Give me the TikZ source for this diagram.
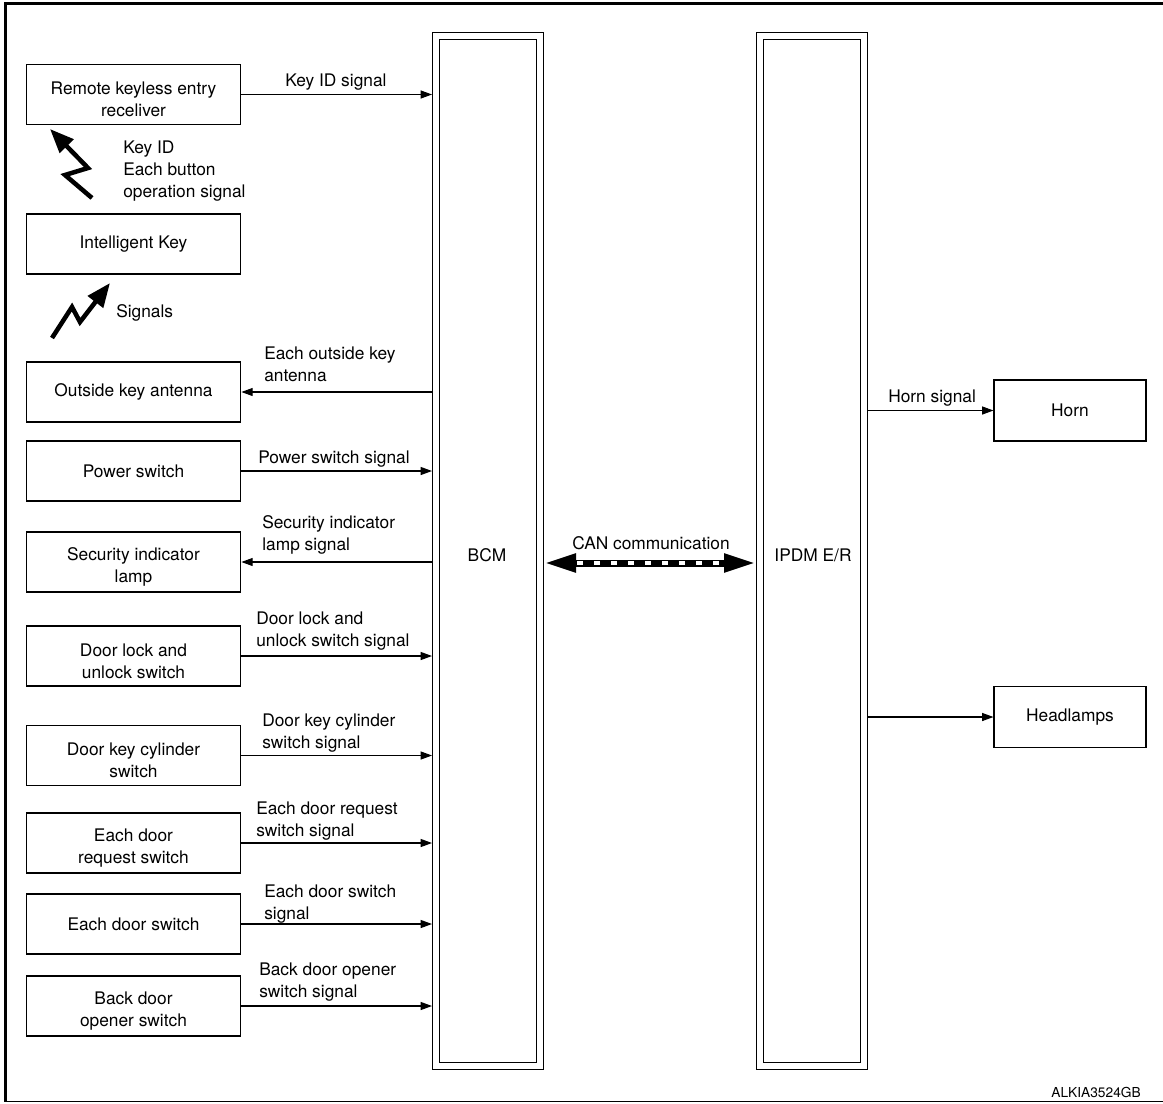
\documentclass[tikz,border=0pt]{standalone}
\usepackage{fontspec}
\setmainfont{TeX Gyre Heros}
\usetikzlibrary{arrows.meta}
\newcommand\mfs{\fontsize{13pt}{16.5pt}\selectfont}
\newcommand\sfs{\fontsize{10.3pt}{12pt}\selectfont}
\newcommand\dnr{\rule{0pt}{17pt}}
\begin{document}
\begin{tikzpicture}[x=0.75pt,y=-0.75pt,
 lbox/.style={draw,line width=0.8pt,minimum width=161pt,minimum height=45pt,align=center,inner sep=0pt,font=\mfs},
 rbox/.style={lbox,minimum width=114pt,minimum height=45.75pt},
 unit/.style={draw,double,line width=0.9pt,double distance=4.2pt,inner sep=0pt,outer sep=3pt,minimum width=78pt,minimum height=772.5pt},
 sig/.style={line width=0.8pt,-{Triangle[length=8.5pt,width=6pt]}},
 lbl/.style={anchor=north west,inner sep=0pt,align=left,font=\mfs},
 bolt/.style={line width=3.4pt,line join=miter,-{Triangle[length=18pt,width=14pt]}},
 canline/.style={line width=5.25pt,{Triangle[length=24pt,width=13pt]}-{Triangle[length=24pt,width=13pt]}},
 candash/.style={white,line width=3pt,dash pattern=on 4.5pt off 8.25pt,shorten <=25pt,shorten >=25pt}]
\useasboundingbox (0,0) rectangle (1163,1103);
% frame
\draw[line width=2.25pt] (1163,3.5) -- (5.8,3.5) -- (5.8,1102);
\draw[line width=0.9pt] (4.5,1101.8) -- (1163,1101.8);
% units
\node[unit] (bcm) at (488,551) {};
\node[unit] (ipdm) at (812,551) {};
\node[font=\mfs] (bcmt) at (487,555) {BCM};
\node[font=\mfs,anchor=north,inner sep=0pt] (ipdmt) at (813,548.7) {IPDM E/R};
% left boxes
\node[lbox] (rke) at (133.5,94.5) {\dnr Remote keyless entry\\receliver};
\node[lbox] (ikey) at (133.5,244) {Intelligent Key};
\node[lbox] (oka) at (133.5,392) {Outside key antenna};
\node[lbox] (psw) at (133.5,471) {Power switch};
\node[lbox] (sil) at (133.5,562) {\dnr Security indicator\\lamp};
\node[lbox] (dlu) at (133.5,656) {\dnr Door lock and\\unlock switch};
\node[lbox] (dkc) at (133.5,755.5) {\dnr Door key cylinder\\switch};
\node[lbox] (edr) at (133.5,843) {\dnr Each door\\request switch};
\node[lbox] (eds) at (133.5,924) {Each door switch};
\node[lbox] (bdo) at (133.5,1006) {\dnr Back door\\opener switch};
% right boxes
\node[rbox] (horn) at (1070,410.5) {Horn};
\node[rbox] (head) at (1070,717) {Headlamps};
% connectors
\draw[sig] (rke.east) -- (rke.east -| bcm.west);
\draw[sig] (oka.east -| bcm.west) -- (oka.east);
\draw[sig] (psw.east) -- (psw.east -| bcm.west);
\draw[sig] (sil.east -| bcm.west) -- (sil.east);
\draw[sig] (dlu.east) -- (dlu.east -| bcm.west);
\draw[sig] (dkc.east) -- (dkc.east -| bcm.west);
\draw[sig] (edr.east) -- (edr.east -| bcm.west);
\draw[sig] (eds.east) -- (eds.east -| bcm.west);
\draw[sig] (bdo.east) -- (bdo.east -| bcm.west);
\draw[sig] (horn.west -| ipdm.east) -- (horn.west);
\draw[sig] (head.west -| ipdm.east) -- (head.west);
% CAN
\coordinate (canY) at (650,563);
\draw[canline] (canY -| bcm.east) -- (canY -| ipdm.west);
\draw[candash] (canY -| bcm.east) -- (canY -| ipdm.west);
% labels
\node[lbl] (l1) at (285,73.7) {Key ID signal};
\node[lbl] (l2) at (264,346.7) {Each outside key\\antenna};
\node[lbl] (l3) at (258,450.7) {Power switch signal};
\node[lbl] (l4) at (262,515.7) {Security indicator\\lamp signal};
\node[lbl] (l5) at (256,611.7) {Door lock and\\unlock switch signal};
\node[lbl] (l6) at (262,713.7) {Door key cylinder\\switch signal};
\node[lbl] (l7) at (256,801.7) {Each door request\\switch signal};
\node[lbl] (l8) at (264,884.7) {Each door switch\\signal};
\node[lbl] (l9) at (259,962.7) {Back door opener\\switch signal};
\node[lbl] (l10) at (888,389.7) {Horn signal};
\node[font=\mfs,anchor=north,inner sep=0pt] (lcan) at (651,536.7) {CAN communication};
\node[lbl] (lkey) at (123,140.7) {Key ID\\Each button\\operation signal};
\node[lbl] (lsig) at (116,304.7) {Signals};
\node[font=\sfs,anchor=north east,inner sep=0pt] (code) at (1141,1087) {ALKIA3524GB};
% radio bolts
\coordinate (b1s) at (92,198);
\coordinate (b1e) at (50,129);
\draw[bolt] (b1s) -- (65,175) -- (88,168) -- (b1e);
\coordinate (b2s) at (52,338);
\coordinate (b2e) at (110,283);
\draw[bolt] (b2s) -- (72,307) -- (80,322) -- (b2e);
\end{tikzpicture}
\end{document}
